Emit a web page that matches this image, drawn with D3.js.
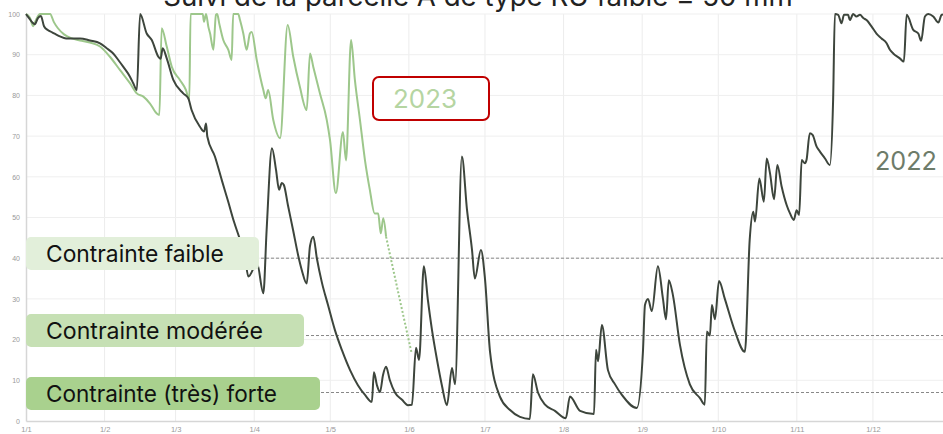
<!DOCTYPE html>
<html><head><meta charset="utf-8">
<script src="https://cdn.jsdelivr.net/npm/d3@7"></script>
<style>body{margin:0;background:#fff;overflow:hidden} svg{display:block}</style>
</head><body>
<svg id="c" width="943" height="434"></svg>
<script>
// ---------- DATA ----------
const titleText = "Suivi de la parcelle A de type RU faible ≤ 50 mm";
const monthStarts = [0,31,59,90,120,151,181,212,243,273,304,334];
const monthLabels = ["1/1","1/2","1/3","1/4","1/5","1/6","1/7","1/8","1/9","1/10","1/11","1/12"];
const yTicks = [0,10,20,30,40,50,60,70,80,90,100];
const thresholds = [40,21,7];
const zoneLabels = ["Contrainte faible","Contrainte modérée","Contrainte (très) forte"];
const seriesNames = ["2022","2023"];

// [day of year, value]
const series2022 = [[0,100],[1.2,99],[2.4,98],[3.5,97.5],[4.7,99],[5.9,99.5],[7.1,97],[8.7,96],[10.3,95.5],[11.8,95],[13.4,94.5],[15.8,94],[18.1,94],[21.3,94],[25.2,93.5],[29.2,92.8],[31.8,91.6],[34.4,90.3],[36.4,88.7],[38.4,87],[41.0,84.6],[42.3,83],[43.7,81.3],[45.0,100],[47.6,95.2],[49.6,93.6],[52.2,89.5],[53.1,89],[53.9,91.6],[55.5,89.1],[58.1,83.8],[62.0,80.5],[64.0,79.3],[65.3,76.4],[68.6,72.3],[70.2,71.1],[71.0,73.1],[71.5,69.9],[74.5,65],[77.3,59],[79.7,54],[82.0,49],[84.4,44.5],[86.4,40],[87.7,35.5],[91.1,38.8],[93.6,31.4],[94.9,47],[97.0,67],[98.6,61.7],[99.8,56.8],[100.9,58.5],[101.7,58],[103.3,53],[105.3,47],[107.3,40.8],[108.8,37],[110.7,33.8],[112.0,43],[113.3,45.3],[114.7,40],[116.7,34],[119.1,28.5],[121.8,22.4],[124.6,17.4],[127.8,12.5],[130.9,8.8],[133.7,6.4],[136.4,4.7],[137.2,12],[138.4,8.8],[139.6,7.1],[140.8,11.3],[142.0,13.3],[143.5,10],[145.5,7],[148.3,5.2],[150.6,3.9],[152.2,4],[153.8,18],[155.0,15],[156.9,38],[158.5,29.7],[160.1,22.4],[162.1,15],[164.0,8.8],[166.0,3.9],[168.0,13],[169.2,9],[171.9,65],[173.9,52],[175.9,42],[177.0,35],[179.4,42],[181.0,35],[183.0,17],[186.9,6],[190.9,2.7],[194.8,1],[198.7,0.5],[199.9,11.5],[201.9,7],[204.7,4],[208.6,2.5],[212.9,0.7],[214.5,6],[218.5,2.5],[224.0,1.7],[224.8,17.5],[225.6,14.7],[227.1,23.6],[229.5,12.5],[232.3,9],[235.0,6.4],[240.9,3.2],[243.3,17],[244.1,28.5],[245.3,30],[246.8,27],[249.2,38],[251.2,30],[252.4,25],[253.5,34.6],[255.1,31],[257.9,18.7],[261.8,9],[265.8,5.6],[267.7,4],[268.5,22],[269.7,21],[270.5,28.5],[271.7,25],[273.3,34.4],[275.6,30],[279.6,22],[283.5,17],[285.4,44.5],[286.8,51.4],[287.5,49],[289.2,59.6],[291.0,53.9],[292.1,64.5],[293.4,60.9],[295.0,54.5],[296.3,62.9],[298.0,57.6],[300.0,53],[301.3,51],[302.8,49.4],[303.9,51.8],[304.9,50.6],[305.9,64.1],[307.2,63.3],[307.8,64.1],[309.1,70.7],[310.2,70.3],[311.8,67.4],[313.1,66.2],[315.1,64.5],[317.0,62.9],[318.3,78.9],[319.0,100],[320.3,99.8],[321.6,97.7],[322.6,99.8],[324.2,99.8],[324.9,98.5],[326.2,100],[327.5,99.4],[328.9,99.8],[330.2,99],[331.5,98.5],[333.5,96.9],[335.4,95.2],[337.4,94],[339.4,92.8],[340.7,91.2],[342.0,90.3],[344.6,89.1],[346.2,88.3],[347.3,99.8],[349.9,96.1],[351.9,95.2],[353.0,93.4],[354.5,99.4],[355.8,100],[357.8,99.4],[359.8,97.9],[361.1,99.8],[364,100]];

const series2023 = [[0,100],[1.6,99],[2.8,97],[3.9,98.5],[5.5,100],[9.5,100],[11,98],[12.6,96.5],[15,95],[18.1,94],[21.3,93.5],[25.2,93],[29.2,92],[33.1,89.5],[37.1,86.2],[41,83],[43.7,80.5],[46.3,79.7],[48.9,78],[51.5,75.6],[52.6,75.2],[53.5,96.5],[55.5,92],[57.5,87],[60.7,83.8],[63.1,81.3],[64.4,78.9],[64.9,100],[69.7,100],[70.2,98.1],[71,100],[71.9,96.9],[72.6,95.2],[73.9,91.2],[74.9,99.8],[75.4,100],[76.2,97.7],[77.8,93.6],[79.8,91.2],[81.1,88.7],[81.7,100],[83.7,100],[84.4,98.5],[85.7,95.2],[87,91.2],[88.3,95.2],[89,95.6],[91,88.7],[93.6,81.3],[94.5,79.3],[95.5,81.3],[97.5,74],[100.2,69.5],[103.2,97.3],[105.4,89.5],[108,82.1],[110.7,76.4],[112,90.3],[113.3,87],[115.9,80.5],[118.6,74],[119.9,69],[122.2,56],[125,71],[126.2,64],[128.2,93.6],[129.7,83.8],[131.7,74],[133.7,64],[135.6,56.8],[137.5,51],[138.9,51],[139.9,46.1],[140.9,49.8],[142,45.3]];

const forecast2023 = [[142,45.3],[147,31],[152.1,16.6]];

// ---------- LAYOUT ----------
const W = 943, H = 434;
const svg = d3.select("#c");
const x = d3.scaleLinear().domain([0,364]).range([26,949]);
const y = d3.scaleLinear().domain([0,100]).range([421,14]);
const tickFont = "'Liberation Sans', Arial, sans-serif";
const annFont = "Inter, 'Noto Sans', sans-serif";

// grid
const g = svg.append("g");
g.selectAll("line.vg").data(monthStarts.slice(1)).join("line")
  .attr("x1",d=>x(d)).attr("x2",d=>x(d)).attr("y1",y(100)).attr("y2",y(0))
  .attr("stroke","#ececec").attr("stroke-width",1);
g.selectAll("line.hg").data(yTicks.slice(1)).join("line")
  .attr("x1",x(0)).attr("x2",W).attr("y1",d=>y(d)).attr("y2",d=>y(d))
  .attr("stroke","#efefef").attr("stroke-width",1);

// axes
const yAxis = d3.axisLeft(y).tickValues(yTicks).tickSize(0).tickPadding(6);
const ya = svg.append("g").attr("transform",`translate(${x(0)},0)`).call(yAxis);
ya.select(".domain").attr("stroke","#d6d6d6").attr("stroke-width",1.5);
ya.selectAll("text").attr("font-family",tickFont).attr("font-size",7).attr("fill","#999");

const xAxis = d3.axisBottom(x).tickValues(monthStarts).tickFormat((d,i)=>monthLabels[i]).tickSize(0).tickPadding(6);
const xa = svg.append("g").attr("transform",`translate(0,${y(0)})`).call(xAxis);
xa.select(".domain").attr("stroke","#d6d6d6").attr("stroke-width",1.5);
xa.selectAll("text").attr("font-family",tickFont).attr("font-size",7.5).attr("fill","#999");

// threshold dashed lines
svg.selectAll("line.th").data(thresholds).join("line")
  .attr("x1",x(0)).attr("x2",W).attr("y1",d=>y(d)).attr("y2",d=>y(d))
  .attr("stroke","#888").attr("stroke-width",1).attr("stroke-dasharray","3,2");

// lines
const line = d3.line().x(d=>x(d[0])).y(d=>y(d[1])).curve(d3.curveMonotoneX);
svg.append("path").datum(series2023).attr("d",line)
  .attr("fill","none").attr("stroke","#9dc78b").attr("stroke-width",2).attr("stroke-linejoin","round");
svg.append("path").datum(forecast2023).attr("d",line)
  .attr("fill","none").attr("stroke","#9dc78b").attr("stroke-width",2).attr("stroke-dasharray","2,2");
svg.append("path").datum(series2022).attr("d",line)
  .attr("fill","none").attr("stroke","#3d453c").attr("stroke-width",2).attr("stroke-linejoin","round");

// zone boxes
const boxes = [
  {x0:26,x1:259,y0:237,y1:270,fill:"#e2efda",base:262,tw:178},
  {x0:26,x1:304,y0:314,y1:347,fill:"#c6e0b4",base:339,tw:217},
  {x0:26,x1:320,y0:377,y1:410,fill:"#a9d18e",base:401.5,tw:231}
];
boxes.forEach((b,i)=>{
  svg.append("rect").attr("x",b.x0).attr("y",b.y0).attr("width",b.x1-b.x0).attr("height",b.y1-b.y0)
    .attr("rx",5).attr("fill",b.fill);
  const t = svg.append("text").attr("x",46).attr("y",b.base).text(zoneLabels[i])
    .attr("font-family",annFont).attr("font-size",20).attr("fill","#111");
  const w = t.node().getComputedTextLength();
  t.attr("font-size",20*b.tw/w);
});

// 2023 annotation
svg.append("rect").attr("x",373).attr("y",77).attr("width",116).attr("height",43).attr("rx",6)
  .attr("fill","#fff").attr("stroke","#c00000").attr("stroke-width",2);
const t23 = svg.append("text").attr("x",425).attr("y",107.5).attr("text-anchor","middle").text(seriesNames[1])
  .attr("font-family",annFont).attr("font-size",25).attr("fill","#b5d5a2");
t23.attr("font-size",25*64/t23.node().getComputedTextLength());

// 2022 label
const t22 = svg.append("text").attr("x",906).attr("y",169.5).attr("text-anchor","middle").text(seriesNames[0])
  .attr("font-family",annFont).attr("font-size",25).attr("fill","#6e7c6a");
t22.attr("font-size",25*62/t22.node().getComputedTextLength());

// title (cut at top)
const tt = svg.append("text").attr("x",478).attr("y",6).attr("text-anchor","middle").text(titleText)
  .attr("font-family",annFont).attr("font-size",24).attr("fill","#222");
tt.attr("font-size",24*630/tt.node().getComputedTextLength());
</script>
</body></html>
